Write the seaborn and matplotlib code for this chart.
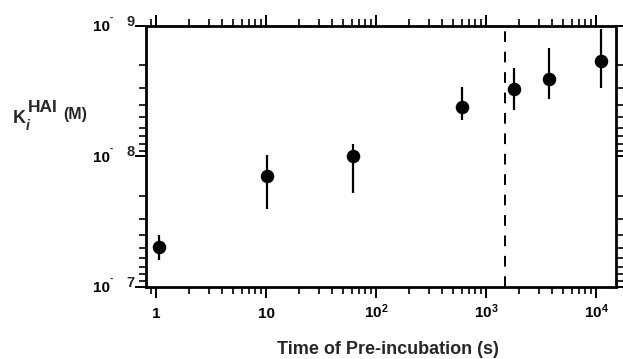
import numpy as np
import pandas as pd
import matplotlib
matplotlib.use("Agg")
import matplotlib.pyplot as plt
import matplotlib.ticker as mticker
import matplotlib.transforms as mtransforms
import seaborn as sns

# values
time_s = [1.07, 10.3, 62, 600, 1800, 3700, 11200]
ki = [4.97e-8, 1.41e-8, 1.00e-8, 4.15e-9, 3.05e-9, 2.56e-9, 1.85e-9]
ki_lo = [3.99e-8, 9.75e-9, 8.06e-9, 2.92e-9, 2.11e-9, 1.48e-9, 1.06e-9]
ki_hi = [6.21e-8, 2.53e-8, 1.91e-8, 5.25e-9, 4.40e-9, 3.63e-9, 3.00e-9]
cutoff_s = 1500
y_ticks = [1e-7, 1e-8, 1e-9]

df = pd.DataFrame({"time": time_s, "ki": ki, "lo": ki_lo, "hi": ki_hi})

sns.set_theme(style="ticks")
plt.rcParams["font.family"] = ["Liberation Sans", "DejaVu Sans"]
plt.rcParams["mathtext.fontset"] = "custom"
plt.rcParams["mathtext.rm"] = "Liberation Sans"
plt.rcParams["mathtext.it"] = "Liberation Sans:italic"
plt.rcParams["mathtext.bf"] = "Liberation Sans:bold"

fig = plt.figure(figsize=(6.23, 3.59), dpi=100)
ax = fig.add_axes([0.2343, 0.2006, 0.7545, 0.727])

ax.set_xscale("log")
ax.set_yscale("log")

ax.vlines(df["time"], df["lo"], df["hi"], color="black", lw=1.6, zorder=2)
sns.scatterplot(data=df, x="time", y="ki", ax=ax, color="black", s=95,
                edgecolor="black", linewidth=0, zorder=3, legend=False)
ax.axvline(cutoff_s, color="black", lw=1.4, ls=(0, (5.5, 5)), zorder=1)

ax.set_xlim(0.81, 15200)
ax.set_ylim(1e-7, 1e-9)

ax.xaxis.set_major_locator(mticker.LogLocator(base=10, numticks=10))
ax.xaxis.set_minor_locator(mticker.LogLocator(base=10, subs=np.arange(2, 10), numticks=20))
ax.set_yticks(y_ticks)
ax.yaxis.set_minor_locator(mticker.LogLocator(base=10, subs=np.arange(2, 10), numticks=20))
ax.xaxis.set_minor_formatter(mticker.NullFormatter())
ax.yaxis.set_minor_formatter(mticker.NullFormatter())


def xfmt(v, pos):
    n = int(round(np.log10(v)))
    if n == 0:
        return "1"
    if n == 1:
        return "10"
    return r"$\mathbf{10^{%d}}$" % n


ax.xaxis.set_major_formatter(mticker.FuncFormatter(xfmt))
ax.set_yticklabels(["10"] * len(y_ticks))

ax.tick_params(which="both", direction="out", top=True, right=True,
               color="black", labelcolor="black")
ax.tick_params(which="major", length=8, width=1.4)
ax.tick_params(which="minor", length=5, width=1.2)
ax.tick_params(axis="x", labelsize=11, pad=14)
ax.tick_params(axis="y", labelsize=11, pad=18)
for lab in ax.get_xticklabels() + ax.get_yticklabels():
    lab.set_fontweight("bold")
for lab in ax.get_xticklabels():
    lab.set_va("baseline")
for s in ax.spines.values():
    s.set_linewidth(2)
    s.set_color("black")

# exponents of the y tick labels: small raised minus, full-size digit
ytrans = mtransforms.blended_transform_factory(ax.transAxes, ax.transData)
for v in y_ticks:
    n = -int(round(np.log10(v)))
    ax.text(0, v, str(n), fontsize=10.5, fontweight="bold", ha="right", va="baseline",
            transform=ytrans + mtransforms.ScaledTranslation(-8.5 / 72, 0, fig.dpi_scale_trans),
            clip_on=False)
    ax.text(0, v, "-", fontsize=7, fontweight="bold", ha="right", va="baseline",
            transform=ytrans + mtransforms.ScaledTranslation(-23.5 / 72, 3.5 / 72, fig.dpi_scale_trans),
            clip_on=False)

ax.set_xlabel("")
ax.set_ylabel("")
fig.text(0.622, 0.014, "Time of Pre-incubation (s)", fontsize=13, fontweight="bold",
         ha="center", va="baseline")

# y axis label K_i^HAI (M), built from pieces
fig.text(0.021, 0.657, "K", fontsize=13, fontweight="bold", va="baseline")
fig.text(0.042, 0.638, "i", fontsize=10, fontweight="bold", style="italic", va="baseline")
fig.text(0.045, 0.688, "HAI", fontsize=12.5, fontweight="bold", va="baseline")
fig.text(0.101, 0.669, "(M)", fontsize=11.5, fontweight="bold", va="baseline")

fig.savefig("out.png", dpi=100)
